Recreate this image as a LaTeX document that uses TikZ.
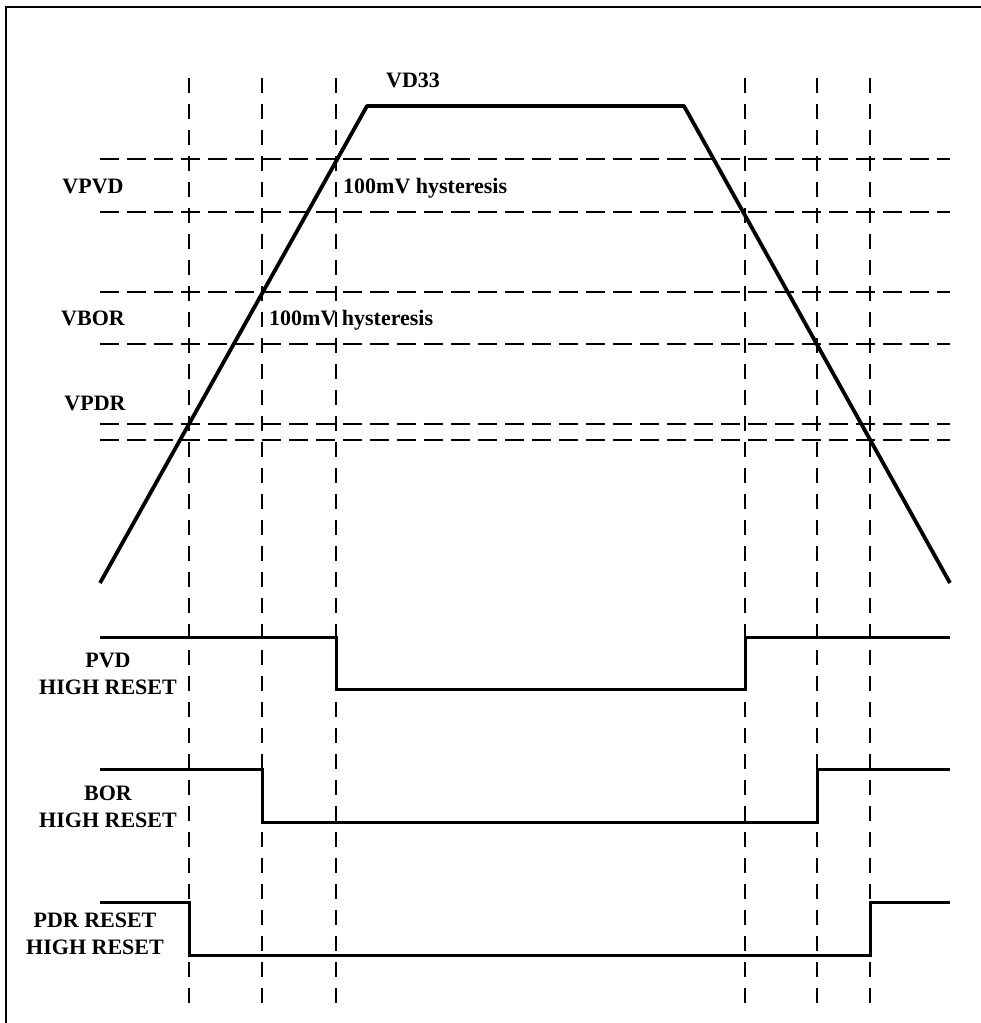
\documentclass[tikz,border=0pt]{standalone}
\usepackage{fontspec}
\setmainfont{Liberation Serif}
\usepackage{tikz}
\usetikzlibrary{positioning}
\tikzstyle{guide} = [line width=1.9pt, dash pattern=on 15pt off 11pt]
\tikzstyle{level} = [line width=1.9pt, dash pattern=on 19pt off 8pt]
\tikzstyle{supply} = [line width=3.8pt, line join=round]
\tikzstyle{signal} = [line width=3pt]
\tikzstyle{lbl} = [font=\fontsize{22}{26}\selectfont\bfseries, inner sep=0pt, anchor=base]

\begin{document}
\begin{tikzpicture}[x=1pt, y=-1pt]
        \useasboundingbox (0,0) rectangle (981,1023);
        \draw [line width=2pt] (6,1023) -- (6,7) -- (981,7);

        \foreach \x in {189,262,336,745,817,870}
            \draw [guide] (\x,78) -- (\x,1008);
        \foreach \y in {159,212,292,344,424,440}
            \draw [level] (100,\y) -- (950,\y);

        \draw [supply] (100,583) -- (367,106) -- (684,106) -- (950,583);
        \node (vd33) [lbl] at (413,87) {VD33};
        \node (vpvd) [lbl] at (93,193) {VPVD};
        \node (hystpvd) [lbl, anchor=base west] at (343,193) {100mV hysteresis};
        \node (vbor) [lbl] at (93,325) {VBOR};
        \node (hystbor) [lbl, anchor=base west] at (269,325) {100mV hysteresis};
        \node (vpdr) [lbl] at (95,410) {VPDR};

        \draw [signal] (100,637) -- (336,637) -- (336,689) -- (745,689) -- (745,637) -- (950,637);
        \node (pvd) [lbl] at (108,667) {PVD};
        \node (pvdrst) [lbl] at (108,694) {HIGH RESET};

        \draw [signal] (100,769) -- (262,769) -- (262,822) -- (817,822) -- (817,769) -- (950,769);
        \node (bor) [lbl] at (108,800) {BOR};
        \node (borrst) [lbl] at (108,827) {HIGH RESET};

        \draw [signal] (100,902) -- (189,902) -- (189,955) -- (870,955) -- (870,902) -- (950,902);
        \node (pdr) [lbl] at (95,927) {PDR RESET};
        \node (pdrrst) [lbl] at (95,954) {HIGH RESET};
\end{tikzpicture}
\end{document}
